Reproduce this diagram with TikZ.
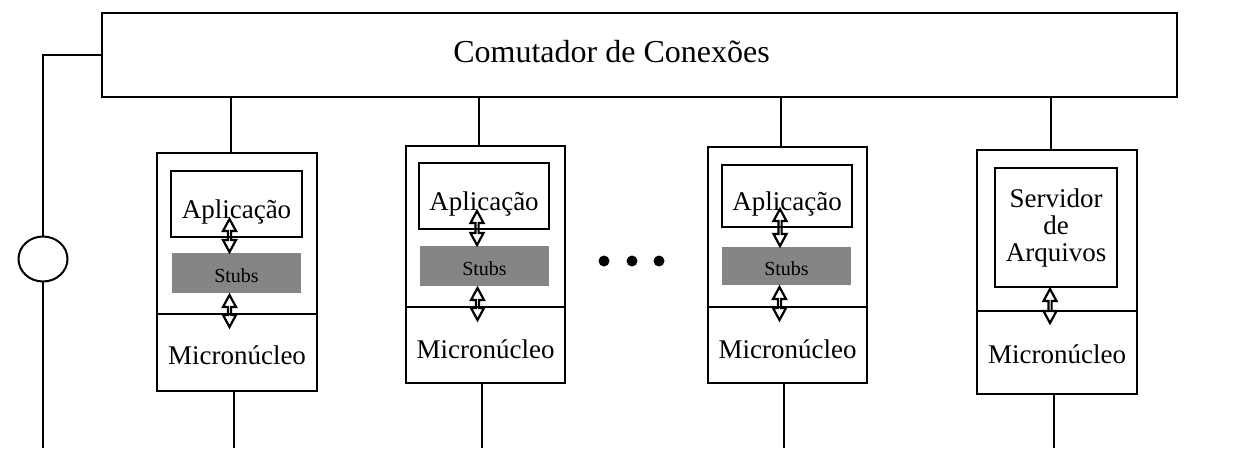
\documentclass[tikz,border=0pt]{standalone}
\usepackage{fontspec}
\setmainfont{Liberation Serif}
\usetikzlibrary{calc,shapes.geometric}

\tikzset{
  every node/.style={inner sep=0pt, outer sep=0pt},
  frame/.style={draw, line width=2.4pt},
  wire/.style={draw, line width=2pt},
  label27/.style={font=\fontsize{27}{27}\selectfont},
  panel/.style 2 args={frame, label27, minimum width=#1pt, minimum height=#2pt},
  % puts the baseline half of #1 below the node centre
  basept/.style={text height=#1pt, text depth=0pt},
  stubbox/.style 2 args={fill=black!48,
    minimum width=#1pt, minimum height=#2pt, font=\fontsize{20}{20}\selectfont},
  updown/.style={draw, line width=2.2pt, line join=miter, to path={
    let \p1=(\tikztostart), \p2=(\tikztotarget) in
    (\x1,\y1) -- (\x1-6.5pt,\y1-12pt) -- (\x1-1.6pt,\y1-12pt) -- (\x1-1.6pt,\y2+12pt)
    -- (\x1-6.5pt,\y2+12pt) -- (\x1,\y2) -- (\x1+6.5pt,\y2+12pt) -- (\x1+1.6pt,\y2+12pt)
    -- (\x1+1.6pt,\y1-12pt) -- (\x1+6.5pt,\y1-12pt) -- cycle}}
}

\begin{document}
\begin{tikzpicture}[x=1pt,y=-1pt]
\useasboundingbox (0,0) rectangle (1238,448);
\coordinate (floor) at (0,448);

% connection switch (title sits a little left of the box centre)
\node[panel={1075}{84}, basept=14, line width=2.8pt, font=\fontsize{32}{32}\selectfont]
  (sw) at (639.5,55) {Comutador de Conexões\kern56pt\relax};

% ring on the left
\node[draw, ellipse, line width=2pt, minimum width=49pt, minimum height=45pt] (ring) at (43,259) {};

% node 1
\node[panel={160}{161}] (h1) at (237,233.5) {};
\node[panel={160}{77}, basept=24] (k1) at (237,352.5) {Micronúcleo};
\node[panel={131}{66}, basept=28] (a1) at (236.5,204) {Aplicação};
\node[stubbox={129}{40}, basept=19] (s1) at (236.5,273) {Stubs};

% node 2
\node[panel={159}{161}] (h2) at (485.5,226.5) {};
\node[panel={159}{76}, basept=26] (k2) at (485.5,345) {Micronúcleo};
\node[panel={130}{66}, basept=29] (a2) at (484,196) {Aplicação};
\node[stubbox={129}{40}, basept=18] (s2) at (484.5,266) {Stubs};

% node 3
\node[panel={159}{160}] (h3) at (787.5,227) {};
\node[panel={159}{76}, basept=26] (k3) at (787.5,345) {Micronúcleo};
\node[panel={130}{62}, basept=28] (a3) at (787,196) {Aplicação};
\node[stubbox={129}{38}, basept=18] (s3) at (786.5,266) {Stubs};

% file server node
\node[panel={160}{161}] (h4) at (1057,230.5) {};
\node[panel={160}{83}, basept=22] (k4) at (1057,352.5) {Micronúcleo};
\node[panel={122}{119}, align=center] (srv) at (1056,227.5) {Servidor\\de\\Arquivos};

% ellipsis between the nodes
\fill (604,261) circle (5.5pt) (632,261) circle (5.5pt) (659,261) circle (5.5pt);

% links from the switch down to each node
\foreach \n in {h1,h2,h3,h4}
  \draw[wire] ([xshift=-6.5pt]\n.north) -- ([xshift=-6.5pt]\n.north |- sw.south);

% links from each node down to the bus
\foreach \n in {k1,k2,k3,k4}
  \draw[wire] ([xshift=-3.5pt]\n.south) -- ([xshift=-3.5pt]\n.south |- floor);

% ring loop
\draw[wire] (sw.west) -| (ring.north);
\draw[wire] (ring.south) -- (ring.south |- floor);

% layer arrows
\foreach \a/\s/\h in {a1/s1/h1, a2/s2/h2, a3/s3/h3} {
  \draw[updown] ([xshift=-7pt,yshift=18pt]\a.south) to ([xshift=-7pt,yshift=1pt]\s.north);
  \draw[updown] ([xshift=-7pt,yshift=-2pt]\s.south) to ([xshift=-7pt,yshift=-13pt]\h.south);
}
\draw[updown] ([xshift=-6pt,yshift=-2pt]srv.south) to ([xshift=-6pt,yshift=-12pt]h4.south);
\end{tikzpicture}
\end{document}
